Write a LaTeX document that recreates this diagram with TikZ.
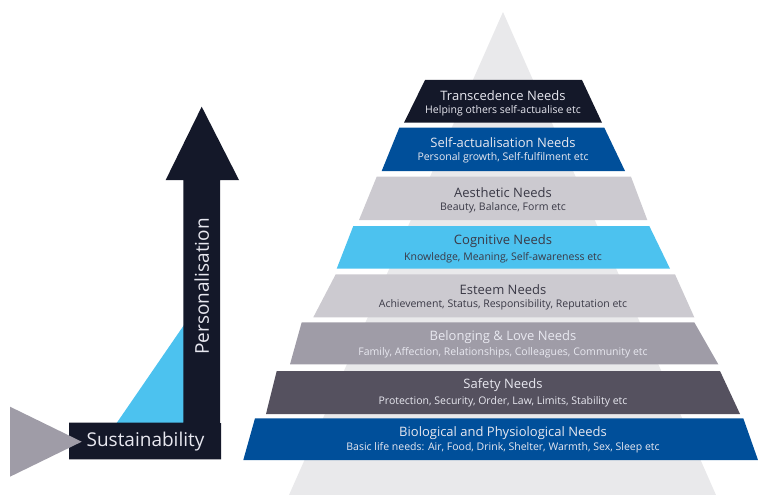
\documentclass[tikz,border=0pt]{standalone}
\usepackage{fontspec}
\setmainfont{Open Sans}
\definecolor{navy}{HTML}{141829}
\definecolor{royal}{HTML}{004F9A}
\definecolor{lgray}{HTML}{CCCAD0}
\definecolor{sky}{HTML}{4CC2EF}
\definecolor{mgray}{HTML}{9F9CA7}
\definecolor{dgray}{HTML}{55515F}
\definecolor{bggray}{HTML}{E9E9EB}
\definecolor{txtlight}{HTML}{E8E8F0}
\definecolor{txtdark}{HTML}{3A3946}
\tikzset{
  ttl/.style={font=\fontsize{13}{15}\selectfont, inner sep=0pt, anchor=center},
  sub/.style={font=\fontsize{10.5}{12}\selectfont, inner sep=0pt, anchor=center},
  onlight/.style={text=txtdark},
  ondark/.style={text=txtlight},
  axislabel/.style={font=\fontsize{19}{21}\selectfont, text=txtlight, inner sep=0pt},
}
\begin{document}
\begin{tikzpicture}[x=1pt,y=-1pt]
\useasboundingbox (0,0) rectangle (758,495);
% background triangle
\fill[bggray] (503,12) -- (716,495) -- (289,495) -- cycle;
% bands
\fill[navy]  (425,80) -- (582,80) -- (602,122.7) -- (404,122.7) -- cycle;
\fill[royal] (399.3,127.7) -- (604.3,127.7) -- (625,171) -- (381.7,171) -- cycle;
\fill[lgray] (376.7,176.7) -- (631,176.7) -- (647.3,220) -- (359,220) -- cycle;
\fill[sky]   (353.3,226) -- (649.3,226) -- (670,268.7) -- (336.7,268.7) -- cycle;
\fill[lgray] (335.7,274.3) -- (675,274.3) -- (694.3,317.3) -- (313.3,317.3) -- cycle;
\fill[mgray] (301.7,322.3) -- (694.3,322.3) -- (718.3,364.3) -- (290,364.3) -- cycle;
\fill[dgray] (276.7,371) -- (720,371) -- (740,414) -- (266,414) -- cycle;
\fill[royal] (255,418.3) -- (743.3,418.3) -- (758,460) -- (243.3,460) -- cycle;
% texts
\node[ttl,ondark]  (t1) at (503,95.7) {Transcedence Needs};
\node[sub,ondark]  (s1) at (503,110.5) {Helping others self-actualise etc};
\node[ttl,ondark]  (t2) at (503,143) {Self-actualisation Needs};
\node[sub,ondark]  (s2) at (503,158) {Personal growth, Self-fulfilment etc};
\node[ttl,onlight] (t3) at (503,192.5) {Aesthetic Needs};
\node[sub,onlight] (s3) at (503,208) {Beauty, Balance, Form etc};
\node[ttl,onlight] (t4) at (503,241.5) {Cognitive Needs};
\node[sub,onlight] (s4) at (503,257.5) {Knowledge, Meaning, Self-awareness etc};
\node[ttl,onlight] (t5) at (503,289.5) {Esteem Needs};
\node[sub,onlight] (s5) at (503,304.5) {Achievement, Status, Responsibility, Reputation etc};
\node[ttl,ondark]  (t6) at (503,337.5) {Belonging \& Love Needs};
\node[sub,ondark]  (s6) at (503,353) {Family, Affection, Relationships, Colleagues, Community etc};
\node[ttl,ondark]  (t7) at (503,385.5) {Safety Needs};
\node[sub,ondark]  (s7) at (503,401.5) {Protection, Security, Order, Law, Limits, Stability etc};
\node[ttl,ondark]  (t8) at (503,432.7) {Biological and Physiological Needs};
\node[sub,ondark]  (s8) at (503,448) {Basic life needs: Air, Food, Drink, Shelter, Warmth, Sex, Sleep etc};
% left: axes
\fill[sky] (116.7,423) -- (184,325) -- (184,423) -- cycle;
\fill[navy] (183.3,459.3) -- (183.3,180) -- (165.7,180) -- (201.7,106.7) -- (239,180) -- (220,180) -- (220,423) -- (221,423) -- (221,459.3) -- (69,459.3) -- (69,422.7) -- (183.3,422.7) -- cycle;
\fill[mgray] (10,406.7) -- (81.7,441.7) -- (10,476.7) -- cycle;
\node[axislabel] (sus) at (145.5,441.7) {Sustainability};
\node[axislabel, rotate=90] (per) at (201.7,286.5) {Personalisation};
\end{tikzpicture}
\end{document}
